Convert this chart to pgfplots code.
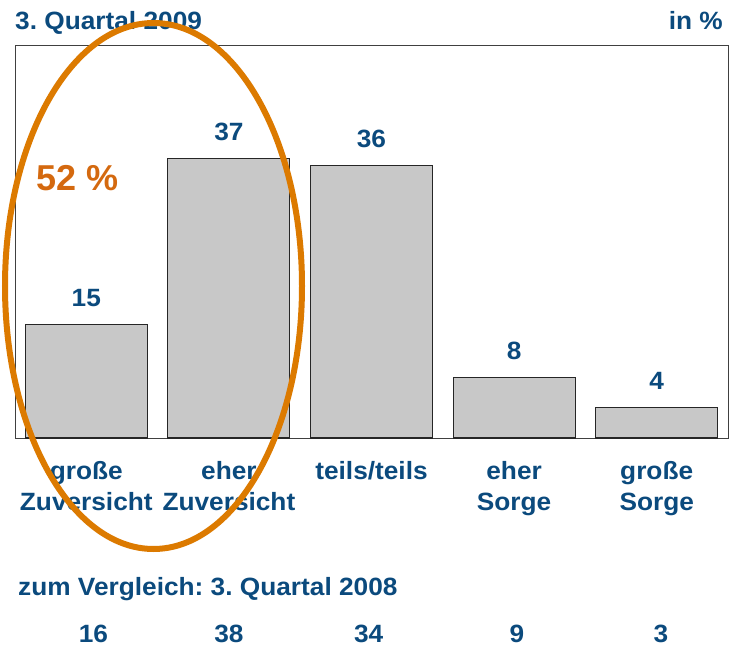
\documentclass[border=0pt]{standalone}
\usepackage{fontspec}
\setmainfont{Liberation Sans}
\newfontfamily\lab{Liberation Sans}[FakeStretch=1.05]
\usepackage{pgfplots}
\pgfplotsset{compat=1.18}
\definecolor{tblue}{HTML}{0B4A7D}
\definecolor{torange}{HTML}{DC7A00}
\definecolor{tpct}{HTML}{D4690F}
\definecolor{barfill}{HTML}{C8C8C8}
\newcommand{\lf}{\lab\bfseries\fontsize{25}{31}\selectfont\frenchspacing}
\frenchspacing
\begin{document}
\begin{tikzpicture}[x=1pt,y=1pt]
\path (-15,-211) rectangle (725,438);
\begin{axis}[
  at={(0,0)}, anchor=south west,
  scale only axis, width=713pt, height=393pt,
  xmin=-0.5, xmax=4.5, ymin=0, ymax=52,
  axis line style={draw=black!75, line width=0.9pt},
  ytick=\empty,
  xtick={0,1,2,3,4}, major tick length=0pt,
  xticklabels={{\strut große\\\strut Zuversicht},{\strut eher\\\strut Zuversicht},{\strut teils/teils},{\strut eher\\\strut Sorge},{\strut große\\\strut Sorge}},
  xticklabel style={font=\lf, text=tblue, align=center, anchor=north, inner sep=0pt, yshift=-20pt},
  ybar, bar width=122pt,
  clip=false,
  /pgf/number format/assume math mode=true,
  nodes near coords,
  every node near coord/.append style={font=\lf, text=tblue, anchor=base, inner sep=0pt, yshift=18pt},
]
\addplot[fill=barfill, draw=black!85, line width=1.1pt] coordinates {(0,15) (1,37) (2,36) (3,8) (4,4)};
\node[anchor=base, font=\lf, text=tblue] at (axis cs:0.05,-27.1) {16};
\node[anchor=base, font=\lf, text=tblue] at (axis cs:1,-27.1) {38};
\node[anchor=base, font=\lf, text=tblue] at (axis cs:1.98,-27.1) {34};
\node[anchor=base, font=\lf, text=tblue] at (axis cs:3.02,-27.1) {9};
\node[anchor=base, font=\lf, text=tblue] at (axis cs:4.03,-27.1) {3};
\end{axis}
\node[anchor=base west, font=\lf, text=tblue, inner sep=0pt] at (0,408) {3. Quartal 2009};
\node[anchor=base east, font=\lf, text=tblue, inner sep=0pt] at (708,408) {in \%};
\node[anchor=base west, font=\lf, text=tblue, inner sep=0pt] at (3,-157) {zum Vergleich: 3. Quartal 2008};
\node[anchor=base west, font=\bfseries\fontsize{36}{40}\selectfont, text=tpct, inner sep=0pt] at (21,248) {52 \%};
\draw[torange, line width=6pt] (138.5,152) ellipse [x radius=148.5, y radius=263];
\end{tikzpicture}
\end{document}
